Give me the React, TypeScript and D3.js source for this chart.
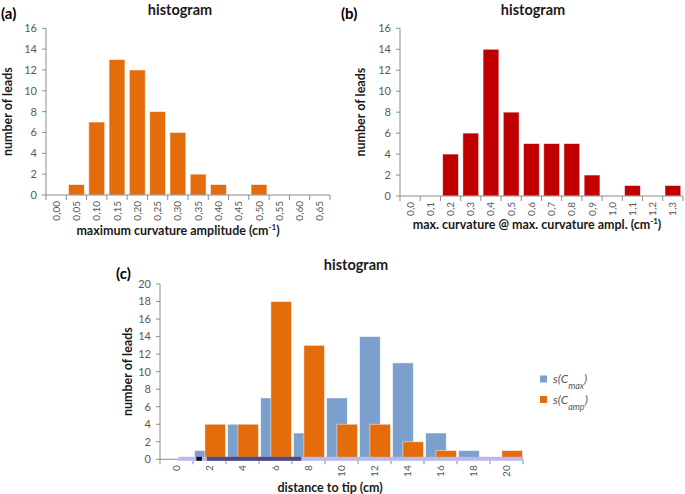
import React from 'react';
import * as d3 from 'd3';

// panel (a): maximum curvature amplitude
const ampCategories = ['0,00', '0,05', '0,10', '0,15', '0,20', '0,25', '0,30', '0,35', '0,40', '0,45', '0,50', '0,55', '0,60', '0,65'];
const ampCounts = [0, 1, 7, 13, 12, 8, 6, 2, 1, 0, 1, 0, 0, 0];

// panel (b): max. curvature @ max. curvature ampl.
const curvCategories = ['0,0', '0,1', '0,2', '0,3', '0,4', '0,5', '0,6', '0,7', '0,8', '0,9', '1,0', '1,1', '1,2', '1,3'];
const curvCounts = [0, 0, 4, 6, 14, 8, 5, 5, 5, 2, 0, 1, 0, 1];

// panel (c): distance to tip
const distCategories = ['0', '2', '4', '6', '8', '10', '12', '14', '16', '18', '20'];
const cmaxCounts = [0, 1, 4, 7, 3, 7, 14, 11, 3, 1, 0];
const campCounts = [0, 4, 4, 18, 13, 4, 4, 2, 1, 0, 1];

// odd strips lying on the baseline of (c), in category units [from, to, colour]
const baselineStrips: [number, number, string][] = [
  [0.55, 11, '#b9b9ee'],
  [1.1, 1.27, '#111111'],
  [1.42, 4.28, '#4b4b7e'],
];

const ORANGE = '#e46c0a';
const RED = '#c00000';
const BLUE = '#7ba0cd';
const AXIS = '#8c8c8c';
const TICK_TEXT = '#595959';
const FONT = 'Lato, "Open Sans", sans-serif';

type Series = { values: number[]; color: string; offset: number; width: number };

function Panel(props: {
  left: number; right: number; top: number; bottom: number;
  categories: string[]; yMax: number; series: Series[];
  title: string; titleX: number; titleY: number;
  tag: string; tagX: number; tagY: number;
  yLabelX: number; xLabel: React.ReactNode; xLabelX: number; xLabelY: number;
}) {
  const { left, right, top, bottom, categories, yMax, series } = props;
  const x = d3.scaleBand<string>().domain(categories).range([left, right]).padding(0);
  const y = d3.scaleLinear().domain([0, yMax]).range([bottom, top]);
  const step = x.step();
  const yTicks = d3.range(0, yMax + 1, 2);

  return (
    <g>
      <text x={props.titleX} y={props.titleY} textAnchor="middle" fontFamily={FONT} fontWeight="bold" fontSize={14.5} fill="#1a1a1a">
        {props.title}
      </text>
      <text x={props.tagX} y={props.tagY} fontFamily={FONT} fontWeight="bold" fontSize={15} fill="#000">
        {props.tag}
      </text>
      {series.map((s, si) =>
        s.values.map((v, i) =>
          v > 0 ? (
            <rect
              key={`${si}-${i}`}
              x={(x(categories[i]) as number) + s.offset * step}
              y={y(v)}
              width={s.width * step}
              height={y(0) - y(v)}
              fill={s.color}
              stroke="#ffffff"
              strokeOpacity={0.6}
              strokeWidth={0.8}
            />
          ) : null
        )
      )}
      {/* y axis */}
      <line x1={left} x2={left} y1={top} y2={bottom} stroke={AXIS} />
      {yTicks.map(t => (
        <g key={t}>
          <line x1={left - 4} x2={left} y1={y(t)} y2={y(t)} stroke={AXIS} />
          <text x={left - 9} y={y(t)} dy="0.35em" textAnchor="end" fontFamily={FONT} fontSize={11} fill={TICK_TEXT}>
            {t}
          </text>
        </g>
      ))}
      {/* x axis */}
      <line x1={left} x2={right} y1={bottom} y2={bottom} stroke={AXIS} />
      {categories.map((c, i) => (
        <line key={`t${i}`} x1={x(c) as number} x2={x(c) as number} y1={bottom} y2={bottom + 5} stroke={AXIS} />
      ))}
      <line x1={right} x2={right} y1={bottom} y2={bottom + 5} stroke={AXIS} />
      {categories.map(c => {
        const cx = (x(c) as number) + step / 2;
        return (
          <text
            key={`l${c}`}
            transform={`translate(${cx + 3.5},${bottom + 6}) rotate(-90)`}
            textAnchor="end"
            fontFamily={FONT}
            fontSize={10}
            fill={TICK_TEXT}
          >
            {c}
          </text>
        );
      })}
      <text
        transform={`translate(${props.yLabelX},${(top + bottom) / 2}) rotate(-90)`}
        textAnchor="middle"
        fontFamily={FONT}
        fontWeight="bold"
        fontSize={12.5}
        fill="#1a1a1a"
      >
        number of leads
      </text>
      <text x={props.xLabelX} y={props.xLabelY} textAnchor="middle" fontFamily={FONT} fontWeight="bold" fontSize={12.5} fill="#1a1a1a">
        {props.xLabel}
      </text>
    </g>
  );
}

function Baseline(props: { left: number; right: number; bottom: number; n: number }) {
  const u = d3.scaleLinear().domain([0, props.n]).range([props.left, props.right]);
  return (
    <g>
      {baselineStrips.map(([a, b, col], i) => (
        <rect key={i} x={u(a)} y={props.bottom - 2.5} width={u(b) - u(a)} height={4} fill={col} />
      ))}
    </g>
  );
}

const cmInv = (label: string) => (
  <>
    {label} (cm
    <tspan baselineShift="super" fontSize={8}>-1</tspan>
    )
  </>
);

export default function App() {
  return (
    <svg width={685} height={494} style={{ position: 'absolute', left: 0, top: 0, background: '#fff' }}>
      <Panel
        left={46} right={330} top={28.3} bottom={195}
        categories={ampCategories} yMax={16}
        series={[{ values: ampCounts, color: ORANGE, offset: 0.11, width: 0.78 }]}
        title="histogram" titleX={180} titleY={15}
        tag="(a)" tagX={1} tagY={19}
        yLabelX={12}
        xLabel={cmInv('maximum curvature amplitude')} xLabelX={178} xLabelY={235}
      />
      <Panel
        left={400} right={683} top={28.3} bottom={196}
        categories={curvCategories} yMax={16}
        series={[{ values: curvCounts, color: RED, offset: 0.11, width: 0.78 }]}
        title="histogram" titleX={533} titleY={15}
        tag="(b)" tagX={341} tagY={19}
        yLabelX={365}
        xLabel={cmInv('max. curvature @ max. curvature ampl.')} xLabelX={537} xLabelY={229}
      />
      <Panel
        left={160} right={523} top={284} bottom={459.3}
        categories={distCategories} yMax={20}
        series={[
          { values: cmaxCounts, color: BLUE, offset: 0.05, width: 0.625 },
          { values: campCounts, color: ORANGE, offset: 0.36, width: 0.625 },
        ]}
        title="histogram" titleX={356} titleY={270}
        tag="(c)" tagX={116} tagY={279}
        yLabelX={132}
        xLabel="distance to tip (cm)" xLabelX={330} xLabelY={492}
      />
      <Baseline left={160} right={523} bottom={459.3} n={distCategories.length} />
      {/* legend */}
      <rect x={540} y={375.5} width={7} height={7} fill={BLUE} />
      <text x={553} y={383} fontFamily={FONT} fontStyle="italic" fontSize={12} fill={TICK_TEXT}>
        s(C<tspan baselineShift="sub" fontSize={9}>max</tspan>)
      </text>
      <rect x={540} y={396} width={7} height={7} fill={ORANGE} />
      <text x={553} y={403.5} fontFamily={FONT} fontStyle="italic" fontSize={12} fill={TICK_TEXT}>
        s(C<tspan baselineShift="sub" fontSize={9}>amp</tspan>)
      </text>
    </svg>
  );
}
